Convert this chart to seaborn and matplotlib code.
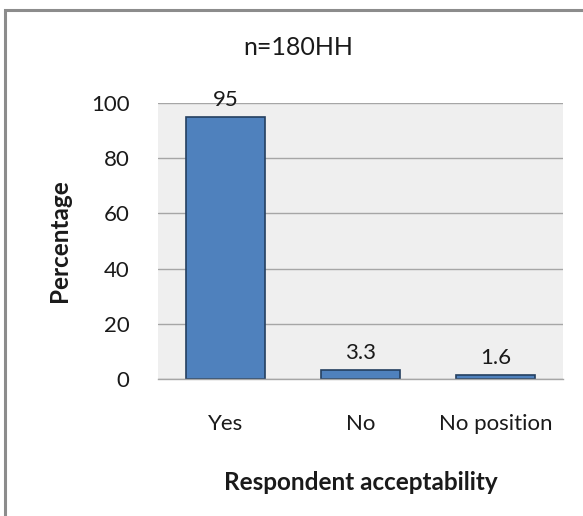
import matplotlib
matplotlib.use("Agg")
import matplotlib.pyplot as plt
import seaborn as sns
import pandas as pd
from matplotlib.patches import Rectangle

categories = ["Yes", "No", "No position"]
percentages = [95, 3.3, 1.6]
value_labels = ["95", "3.3", "1.6"]
y_ticks = [0, 20, 40, 60, 80, 100]

sns.set_theme(style="white")
plt.rcParams["font.family"] = ["Lato", "DejaVu Sans"]

df = pd.DataFrame({"category": categories, "percentage": percentages})

fig = plt.figure(figsize=(5.83, 5.16), dpi=100)
fig.patch.set_facecolor("white")

# outer frame around the chart
fig.add_artist(Rectangle((5 / 583, -0.05), 1.2, 1 - 10 / 516 + 0.05,
                         transform=fig.transFigure, fill=False,
                         edgecolor="#8c8c8c", linewidth=2.2))

ax = fig.add_axes([158 / 583, 137 / 516, 405 / 583, 276 / 516])
ax.set_facecolor("#efefef")

sns.barplot(data=df, x="category", y="percentage", ax=ax,
            color="#4f81bd", edgecolor="#243f60", linewidth=1.2,
            width=0.585, saturation=1)

ax.set_ylim(0, 100)
ax.set_yticks(y_ticks)
ax.yaxis.grid(True, color="#a6a6a6", linewidth=1.0)
ax.set_axisbelow(True)
for side in ["top", "right", "left"]:
    ax.spines[side].set_visible(False)
ax.spines["bottom"].set_color("#a6a6a6")
ax.spines["bottom"].set_linewidth(1.0)

ax.tick_params(axis="y", labelsize=16, colors="#1a1a1a", pad=20.5, length=0)
ax.tick_params(axis="x", labelsize=16, colors="#1a1a1a", pad=25.5, length=0)

ax.bar_label(ax.containers[0], labels=value_labels, padding=5,
             fontsize=16, color="#1a1a1a")

ax.set_xlabel("Respondent acceptability", fontsize=17.5, fontweight="bold",
              color="#1a1a1a", labelpad=26)
ax.set_ylabel("Percentage", fontsize=17.5, fontweight="bold",
              color="#1a1a1a", labelpad=14)

fig.text(298 / 583, 1 - 48 / 516, "n=180HH", ha="center", va="center",
         fontsize=18, color="#1a1a1a")

fig.savefig("out.png", dpi=100)
